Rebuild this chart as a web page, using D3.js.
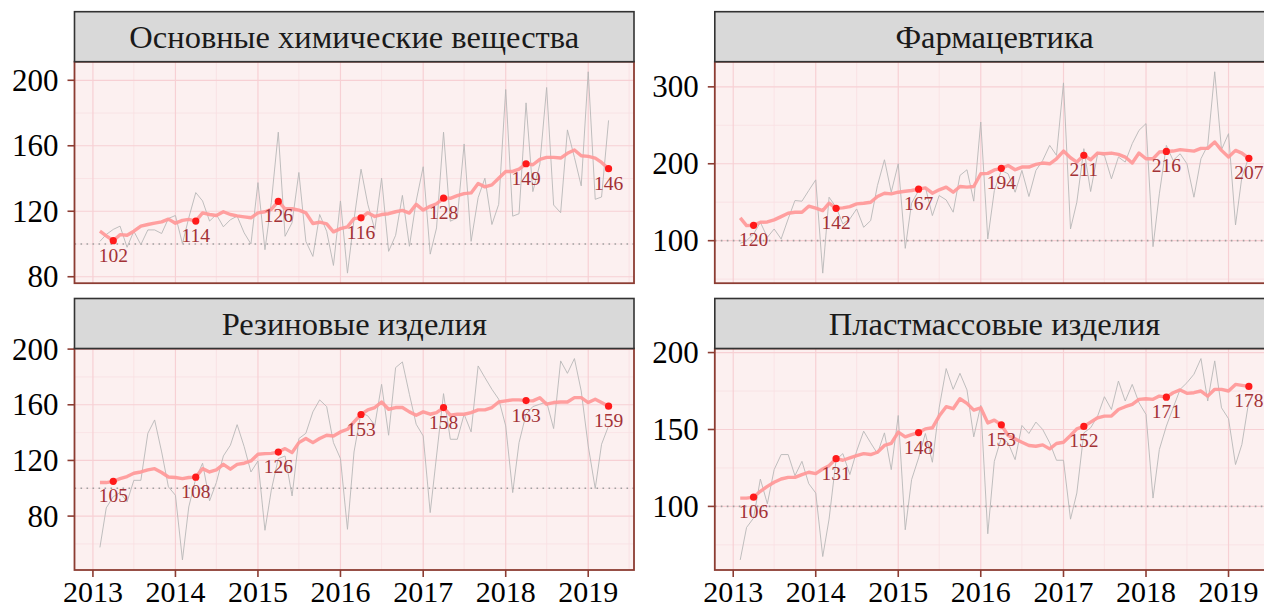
<!DOCTYPE html>
<html>
<head>
<meta charset="utf-8">
<title>Индексы производства</title>
<script src="https://cdn.jsdelivr.net/npm/d3@7"></script>
<style>
  body { margin: 0; background: #fff; }
  svg text { font-family: "Liberation Serif", "Times New Roman", serif; }
</style>
</head>
<body>
<svg id="chart" width="1264" height="607"></svg>
<script>
// panel titles
const panelTitles = ["Основные химические вещества", "Фармацевтика", "Резиновые изделия", "Пластмассовые изделия"];

// monthly index values, Feb 2013 .. Apr 2019 (gray line)
const chemValues = [101.6,105.8,108.9,110.9,98,107.8,99.6,108.6,108.6,106.4,115.6,117.4,100.2,116,131.4,126.3,114,118,110.5,114.8,117,106.8,100,137.5,96.5,125.2,168.3,104.7,113,143.7,101.6,92.4,118,107.8,86.9,126.3,82.2,115,145.7,124.2,108.8,140.2,95.5,105.3,129.7,98.6,126.3,147.2,93.8,109.8,168.3,113.9,116,161.1,101.6,128.3,140.2,111.9,124.2,194.4,117,118.5,186.2,132,148.8,195.6,123.8,119.1,169.7,152.9,135.5,205.2,127.3,128.7,175.5];
const pharmaValues = [96.5,100,108.7,123.9,104.3,115.2,102.2,128.3,152.2,151.3,165.2,179.1,57.8,156.5,143.5,121.7,128.3,141.3,117.4,126.1,171.7,205.2,163,200,90,148.7,165.2,169.6,132.6,158.7,153,137,184.8,192.2,151.3,254.3,102.2,165,191.3,187,163,191.3,157.4,191.3,204.3,223.9,210.9,305.2,115.2,150,219.6,163.9,213,210.9,180.4,208.7,202.2,226.1,243.5,252.2,92.2,160.9,223.9,204.3,213,200,156.5,206.5,223.9,319.6,218.3,239.1,120.4,182.6,208.7];
const rubberValues = [57.5,85.9,94,96.9,90.2,105.7,105.7,139.5,149.1,126.1,101,95,48.5,86.6,107,118,90.9,104.1,123.2,130.9,145.7,129.9,111.7,119.6,69.8,98.6,121.3,123.2,94.5,135.7,139.5,154.9,163.5,158.7,132.8,121.3,70.5,126.1,154.4,152,145.3,174.7,138.1,186.7,190.8,167.5,146,137.6,82.5,123.2,168,135.2,135.2,153.2,140.5,187.9,179.5,171.1,164,144.8,96.9,132.8,153.2,158.7,160.4,162,142.9,191.5,182.6,193.2,169.9,130.4,99.8,131.6,144.8];
const plasticValues = [65.2,86.3,92.4,117.8,101.7,123.9,133.7,133.7,120,129.3,114.8,108.7,67.4,91.7,130.4,134.3,120.7,135.9,148.9,141.3,134.3,147.8,123.9,159.1,84.8,117.4,131.5,147.4,128.7,164.1,189.6,176.1,186.5,175.7,145.2,165.7,82.2,129.3,144.6,141.3,130.4,152.6,147.4,154.8,150,141.3,130,130,91.7,108.7,147.8,151.1,158.7,171.3,163,181.5,168.5,179.3,167.4,159.8,105.4,137,152.2,164.1,176.1,180.4,185.9,196.1,168.5,194.6,164.1,157,127.2,140.2,168.5];

// smoothed trend (pink line)
const chemTrend = [107.8,105,102,105.7,105.3,107.8,110.9,111.9,112.7,113.5,115.2,112.7,114.4,115,114,119,118,117.4,119.7,118,117.2,116.6,116,119,119.7,121.1,126,121.5,121.5,120.7,119,112.5,113.3,112.3,107.4,109.4,110.5,115.5,116,119.1,116.8,118,118.5,119.7,120.5,118.9,124.2,120.7,123,124.6,128,127.9,129.5,130.8,131.2,136.9,134.9,136.1,140.2,144.3,144.3,145.7,149,148.4,151.7,152.9,152.9,152.5,155.4,157.4,153.9,153.5,152.5,149.8,146];
const pharmaTrend = [129.6,119.6,120,123.9,124.3,127,131.3,135.7,137,137,144.8,142.2,139.1,148.7,142,142.6,144.3,147.8,148.7,150,157.4,161.7,160.9,163,164.3,165.2,167,168.7,161.7,166.1,169.6,163,170.4,169.6,170.4,187,187.5,192,194,197.8,192.2,195.7,195.7,199.1,200.9,200,206.5,216.5,207.8,202.2,211,205.2,213.9,213,213.9,212.2,208.7,200.9,213.9,206.5,206.5,215.2,216,216.5,218.3,217.4,216.5,220,220,228.3,217.4,208.7,217.4,213.9,207];
const rubberTrend = [104.1,104.1,105,106.9,108.4,110.8,111.7,113.2,114.1,111.3,108.1,107.7,106.9,107.7,108,114.1,111.7,113.2,117.2,113.7,117.2,118,119.6,124.4,124.9,125.1,126,128.5,125.6,132.8,135.7,132.8,135.7,138.1,137.6,140.5,142.4,147.7,153,156.3,158,162,156.8,158,158,154.9,152.5,154.9,153.2,154.4,158,152.5,153.2,153.2,154.4,156.3,156.3,158,162,162.8,163.5,163.5,163,162.8,165.1,160.4,161.6,162,162,165.1,165.1,161.6,164,161.6,159];
const plasticTrend = [105.4,105.4,106,109.8,113,115.7,117.8,118.9,118.9,120.7,122.2,121.3,124.3,126.5,131,130,131.5,133,134.3,133.7,135.2,139.6,140.9,148.3,145.2,146.7,148,150.4,151.1,158.7,164.8,163.5,170,167,162.6,164.1,154.3,156.1,153,146.1,143.9,141.7,139.6,139.1,140,137.4,140.9,141.7,146.1,150.4,152,154.8,157.6,158.7,158.7,163,164.8,166.3,169.6,170,169.6,171.7,171,173.9,175.7,173.5,173.9,175,171.7,176.1,176.1,175,179.3,178.7,178];

// y tick labels per panel
const chemTicks = [80, 120, 160, 200];
const pharmaTicks = [100, 200, 300];
const rubberTicks = [80, 120, 160, 200];
const plasticTicks = [100, 150, 200];

const years = [2013, 2014, 2015, 2016, 2017, 2018, 2019];
const months = d3.range(chemValues.length).map(i => new Date(2013, 1 + i, 1));

const panels = [
  {title: panelTitles[0], values: chemValues, trend: chemTrend, ticks: chemTicks},
  {title: panelTitles[1], values: pharmaValues, trend: pharmaTrend, ticks: pharmaTicks},
  {title: panelTitles[2], values: rubberValues, trend: rubberTrend, ticks: rubberTicks},
  {title: panelTitles[3], values: plasticValues, trend: plasticTrend, ticks: plasticTicks}
];

const svg = d3.select("#chart");
const W = 559.5, H = 221.5, stripH = 50;
const lefts = [74.5, 714.8], tops = [61.7, 348.5];

const border = "#8c3c32";

// shared x scale with 5% padding like ggplot
const t0 = months[0], t1 = months[months.length - 1];
const pad = (t1 - t0) * 0.05;
const x = d3.scaleTime()
  .domain([new Date(+t0 - pad), new Date(+t1 + pad)])
  .range([0, W]);

panels.forEach(function(p, k) {
  const col = k % 2, row = Math.floor(k / 2);
  const g = svg.append("g").attr("transform", "translate(" + lefts[col] + "," + tops[row] + ")");

  const ext = d3.extent(p.values.concat(p.trend));
  const ypad = (ext[1] - ext[0]) * 0.05;
  const y = d3.scaleLinear().domain([ext[0] - ypad, ext[1] + ypad]).range([H, 0]);

  g.append("rect").attr("width", W).attr("height", H).attr("fill", "#fcf0f0");

  // minor grid
  const step = p.ticks[1] - p.ticks[0];
  const minorY = d3.range(p.ticks[0] - step / 2, p.ticks[p.ticks.length - 1] + step, step)
    .filter(v => v > y.domain()[0] && v < y.domain()[1]);
  g.selectAll(".ymin").data(minorY).enter().append("line")
    .attr("x1", 0).attr("x2", W).attr("y1", d => y(d)).attr("y2", d => y(d))
    .attr("stroke", "#f9e0e2").attr("stroke-width", 0.8);
  const minorX = years.map(yr => new Date(yr, 6, 1)).concat([new Date(2012, 6, 1)])
    .filter(d => d > x.domain()[0] && d < x.domain()[1]);
  g.selectAll(".xmin").data(minorX).enter().append("line")
    .attr("y1", 0).attr("y2", H).attr("x1", d => x(d)).attr("x2", d => x(d))
    .attr("stroke", "#f9e0e2").attr("stroke-width", 0.8);

  // major grid
  g.selectAll(".ymaj").data(p.ticks).enter().append("line")
    .attr("x1", 0).attr("x2", W).attr("y1", d => y(d)).attr("y2", d => y(d))
    .attr("stroke", "#f7d0d4").attr("stroke-width", 1.2);
  g.selectAll(".xmaj").data(years).enter().append("line")
    .attr("y1", 0).attr("y2", H).attr("x1", d => x(new Date(d, 0, 1))).attr("x2", d => x(new Date(d, 0, 1)))
    .attr("stroke", "#f7d0d4").attr("stroke-width", 1.2);

  // reference line at 100
  g.append("line").attr("x1", 0).attr("x2", W).attr("y1", y(100)).attr("y2", y(100))
    .attr("stroke", "#a0a0a0").attr("stroke-width", 1.6)
    .attr("stroke-dasharray", "1.6,4.4");

  // monthly values
  g.append("path").datum(p.values)
    .attr("fill", "none").attr("stroke", "#b8b8b8").attr("stroke-width", 0.9)
    .attr("d", d3.line().x((d, i) => x(months[i])).y(d => y(d)));

  // trend
  g.append("path").datum(p.trend)
    .attr("fill", "none").attr("stroke", "#ff9a9a").attr("stroke-width", 3.4)
    .attr("stroke-linejoin", "round").attr("opacity", 0.95)
    .attr("d", d3.line().x((d, i) => x(months[i])).y(d => y(d)));

  // April points with labels
  const aprils = d3.range(months.length).filter(i => months[i].getMonth() === 3);
  g.selectAll(".pt").data(aprils).enter().append("circle")
    .attr("cx", i => x(months[i])).attr("cy", i => y(p.trend[i])).attr("r", 3.6)
    .attr("fill", "#ff1a1a");
  g.selectAll(".lab").data(aprils).enter().append("text")
    .attr("x", i => x(months[i])).attr("y", i => y(p.trend[i]) + 21)
    .attr("text-anchor", "middle").attr("font-size", 19.5).attr("fill", "#a33236")
    .text(i => Math.round(p.trend[i]));

  // panel border
  g.append("rect").attr("width", W).attr("height", H)
    .attr("fill", "none").attr("stroke", border).attr("stroke-width", 1.8);

  // y axis
  g.selectAll(".ytick").data(p.ticks).enter().append("line")
    .attr("x1", -7).attr("x2", 0).attr("y1", d => y(d)).attr("y2", d => y(d))
    .attr("stroke", border).attr("stroke-width", 1.6);
  g.selectAll(".ylab").data(p.ticks).enter().append("text")
    .attr("x", -16).attr("y", d => y(d)).attr("dy", "0.34em")
    .attr("text-anchor", "end").attr("font-size", 31).attr("fill", "#000")
    .text(d => d);

  // x axis on bottom row only
  if (row === 1) {
    g.selectAll(".xtick").data(years).enter().append("line")
      .attr("x1", d => x(new Date(d, 0, 1))).attr("x2", d => x(new Date(d, 0, 1)))
      .attr("y1", H).attr("y2", H + 7)
      .attr("stroke", border).attr("stroke-width", 1.6);
    g.selectAll(".xlab").data(years).enter().append("text")
      .attr("x", d => x(new Date(d, 0, 1))).attr("y", H + 32)
      .attr("text-anchor", "middle").attr("font-size", 30).attr("fill", "#000")
      .text(d => d);
  }

  // strip
  g.append("rect").attr("x", 0).attr("y", -stripH).attr("width", W).attr("height", stripH)
    .attr("fill", "#d9d9d9").attr("stroke", "#333").attr("stroke-width", 1.6);
  g.append("text").attr("x", W / 2).attr("y", -stripH / 2).attr("dy", "0.34em")
    .attr("text-anchor", "middle").attr("font-size", 32.5).attr("fill", "#1a1a1a")
    .text(p.title);
});
</script>
</body>
</html>
